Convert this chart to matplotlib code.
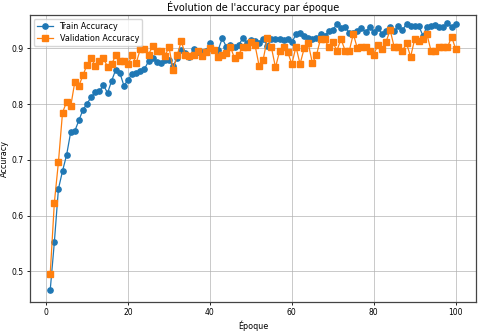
import matplotlib
matplotlib.use("Agg")
import matplotlib.pyplot as plt

epochs = list(range(1, 101))

train_acc = [
    0.467, 0.552, 0.648, 0.680, 0.709, 0.750, 0.752, 0.771, 0.790, 0.801,
    0.813, 0.821, 0.823, 0.834, 0.820, 0.842, 0.862, 0.856, 0.833, 0.844,
    0.854, 0.856, 0.860, 0.863, 0.877, 0.883, 0.875, 0.874, 0.880, 0.879,
    0.869, 0.882, 0.897, 0.891, 0.885, 0.899, 0.894, 0.893, 0.895, 0.910,
    0.897, 0.897, 0.918, 0.903, 0.907, 0.903, 0.906, 0.918, 0.910, 0.915,
    0.913, 0.910, 0.917, 0.905, 0.917, 0.917, 0.917, 0.915, 0.917, 0.911,
    0.925, 0.927, 0.923, 0.918, 0.917, 0.918, 0.926, 0.923, 0.931, 0.933,
    0.944, 0.937, 0.939, 0.928, 0.927, 0.931, 0.937, 0.929, 0.939, 0.929,
    0.937, 0.926, 0.931, 0.939, 0.931, 0.940, 0.933, 0.944, 0.940, 0.940,
    0.940, 0.923, 0.939, 0.940, 0.942, 0.939, 0.939, 0.946, 0.939, 0.943,
]

val_acc = [
    0.496, 0.623, 0.696, 0.785, 0.804, 0.796, 0.840, 0.833, 0.852, 0.871,
    0.882, 0.869, 0.878, 0.882, 0.867, 0.872, 0.888, 0.877, 0.877, 0.872,
    0.888, 0.874, 0.899, 0.899, 0.889, 0.904, 0.895, 0.895, 0.887, 0.902,
    0.862, 0.888, 0.913, 0.888, 0.887, 0.889, 0.896, 0.887, 0.894, 0.901,
    0.897, 0.885, 0.888, 0.891, 0.903, 0.882, 0.889, 0.902, 0.902, 0.911,
    0.906, 0.869, 0.880, 0.918, 0.902, 0.866, 0.895, 0.903, 0.893, 0.872,
    0.903, 0.872, 0.900, 0.909, 0.874, 0.888, 0.917, 0.917, 0.902, 0.911,
    0.896, 0.917, 0.896, 0.895, 0.926, 0.900, 0.902, 0.903, 0.896, 0.889,
    0.906, 0.899, 0.912, 0.933, 0.902, 0.902, 0.896, 0.909, 0.885, 0.917,
    0.913, 0.917, 0.925, 0.895, 0.895, 0.903, 0.902, 0.902, 0.921, 0.899,
]

fig = plt.figure(figsize=(4.8, 3.33), dpi=100)
ax = fig.add_axes([0.062, 0.093, 0.930, 0.862])

ax.plot(epochs, train_acc, label="Train Accuracy", color="#1f77b4",
        marker="o", markersize=3.8, linewidth=0.9)
ax.plot(epochs, val_acc, label="Validation Accuracy", color="#ff7f0e",
        marker="s", markersize=3.8, linewidth=0.9)

ax.set_xlim(-4, 105)
ax.set_ylim(0.445, 0.96)
ax.set_title("Évolution de l'accuracy par époque", fontsize=7, pad=3)
ax.set_xlabel("Époque", fontsize=5.8, labelpad=2)
ax.set_ylabel("Accuracy", fontsize=5.8, labelpad=1.5)
ax.tick_params(labelsize=5.5, length=2.5, width=0.6, pad=2)
ax.grid(True, color="#b0b0b0", linewidth=0.6, alpha=0.8)
for s in ax.spines.values():
    s.set_linewidth(0.9)
    s.set_color("#444444")

ax.legend(loc="upper left", fontsize=5.8, handlelength=2, borderpad=0.4,
          labelspacing=0.3, framealpha=0.8)

fig.savefig("out.png", dpi=100)
